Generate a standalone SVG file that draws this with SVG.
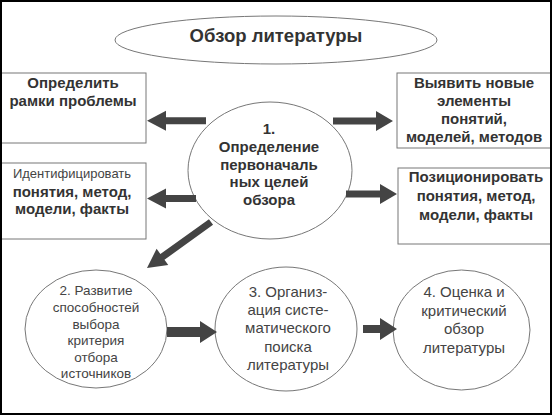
<svg xmlns="http://www.w3.org/2000/svg" width="552" height="415" viewBox="0 0 552 415">
<style>
.shape{fill:#fff;stroke:#777;stroke-width:1}
.b{font-family:"Liberation Sans",Arial,sans-serif;font-weight:bold;font-size:15px;fill:#333;text-anchor:middle}
.r{font-family:"Liberation Sans",Arial,sans-serif;font-weight:normal;fill:#444;text-anchor:middle}
.arr{fill:#444;stroke:none}
</style>
<rect x="0" y="0" width="552" height="415" fill="#fff"/>
<g id="title">
<ellipse class="shape" cx="276" cy="40" rx="161" ry="24"/>
<text class="b" x="276" y="42" style="font-size:18.5px">Обзор литературы</text>
</g>
<g id="box-frame">
<rect class="shape" x="1" y="73" width="145" height="70"/>
<text class="b" x="73" y="88">Определить</text>
<text class="b" x="73" y="106">рамки проблемы</text>
</g>
<g id="box-identify">
<rect class="shape" x="1" y="163" width="145" height="76"/>
<text class="r" x="72" y="178" style="font-size:13px">Идентифицировать</text>
<text class="b" x="72" y="197">понятия, метод,</text>
<text class="b" x="72" y="214">модели, факты</text>
</g>
<g id="box-new">
<rect class="shape" x="397" y="73" width="154" height="75"/>
<text class="b" x="474" y="88">Выявить новые</text>
<text class="b" x="474" y="106">элементы</text>
<text class="b" x="474" y="124">понятий,</text>
<text class="b" x="474" y="142">моделей, методов</text>
</g>
<g id="box-position">
<rect class="shape" x="398" y="168" width="153" height="76"/>
<text class="b" x="476" y="182">Позиционировать</text>
<text class="b" x="476" y="201">понятия, метод,</text>
<text class="b" x="476" y="220">модели, факты</text>
</g>
<g id="step1">
<ellipse class="shape" cx="270" cy="170.5" rx="82" ry="68.5"/>
<text class="b" x="269" y="134">1.</text>
<text class="b" x="269" y="152">Определение</text>
<text class="b" x="269" y="169.5">первоначаль</text>
<text class="b" x="269" y="187">ных целей</text>
<text class="b" x="269" y="204.5">обзора</text>
</g>
<g id="step2">
<ellipse class="shape" cx="96" cy="329" rx="71" ry="59"/>
<g class="r" style="font-size:13.5px">
<text x="96" y="295">2. Развитие</text>
<text x="96" y="311.5">способностей</text>
<text x="96" y="328.5">выбора</text>
<text x="96" y="345">критерия</text>
<text x="96" y="362">отбора</text>
<text x="96" y="378">источников</text>
</g>
</g>
<g id="step3">
<ellipse class="shape" cx="286" cy="329" rx="71" ry="62"/>
<g class="r" style="font-size:15px">
<text x="288" y="297">3. Организ-</text>
<text x="288" y="315">ация систе-</text>
<text x="288" y="333">матического</text>
<text x="288" y="351.5">поиска</text>
<text x="288" y="370">литературы</text>
</g>
</g>
<g id="step4">
<ellipse class="shape" cx="461.5" cy="330" rx="68.5" ry="60"/>
<g class="r" style="font-size:15px">
<text x="464" y="297">4. Оценка и</text>
<text x="464" y="316">критический</text>
<text x="464" y="334">обзор</text>
<text x="464" y="353">литературы</text>
</g>
</g>
<g id="connectors">
<polygon class="arr" points="206,117.2 166,117.2 166,110.7 147,120.7 166,130.7 166,124.2 206,124.2"/>
<polygon class="arr" points="333,117.5 376,117.5 376,111 393,121 376,131 376,124.5 333,124.5"/>
<polygon class="arr" points="196,195 166,195 166,188.5 147,198.5 166,208.5 166,202 196,202"/>
<polygon class="arr" points="346,190.5 380,190.5 380,184 397,194 380,204 380,197.5 346,197.5"/>
<polygon class="arr" transform="translate(147,268) rotate(-35.7)" points="78.8,-3.5 19,-3.5 19,-10 0,0 19,10 19,3.5 78.8,3.5"/>
<polygon class="arr" points="167,327 200,327 200,321 217,332 200,343 200,337 167,337"/>
<polygon class="arr" points="363,325 380,325 380,318 397,329 380,340 380,333 363,333"/>
</g>
<rect x="1" y="1" width="550" height="413" fill="none" stroke="#000" stroke-width="2"/>
</svg>
